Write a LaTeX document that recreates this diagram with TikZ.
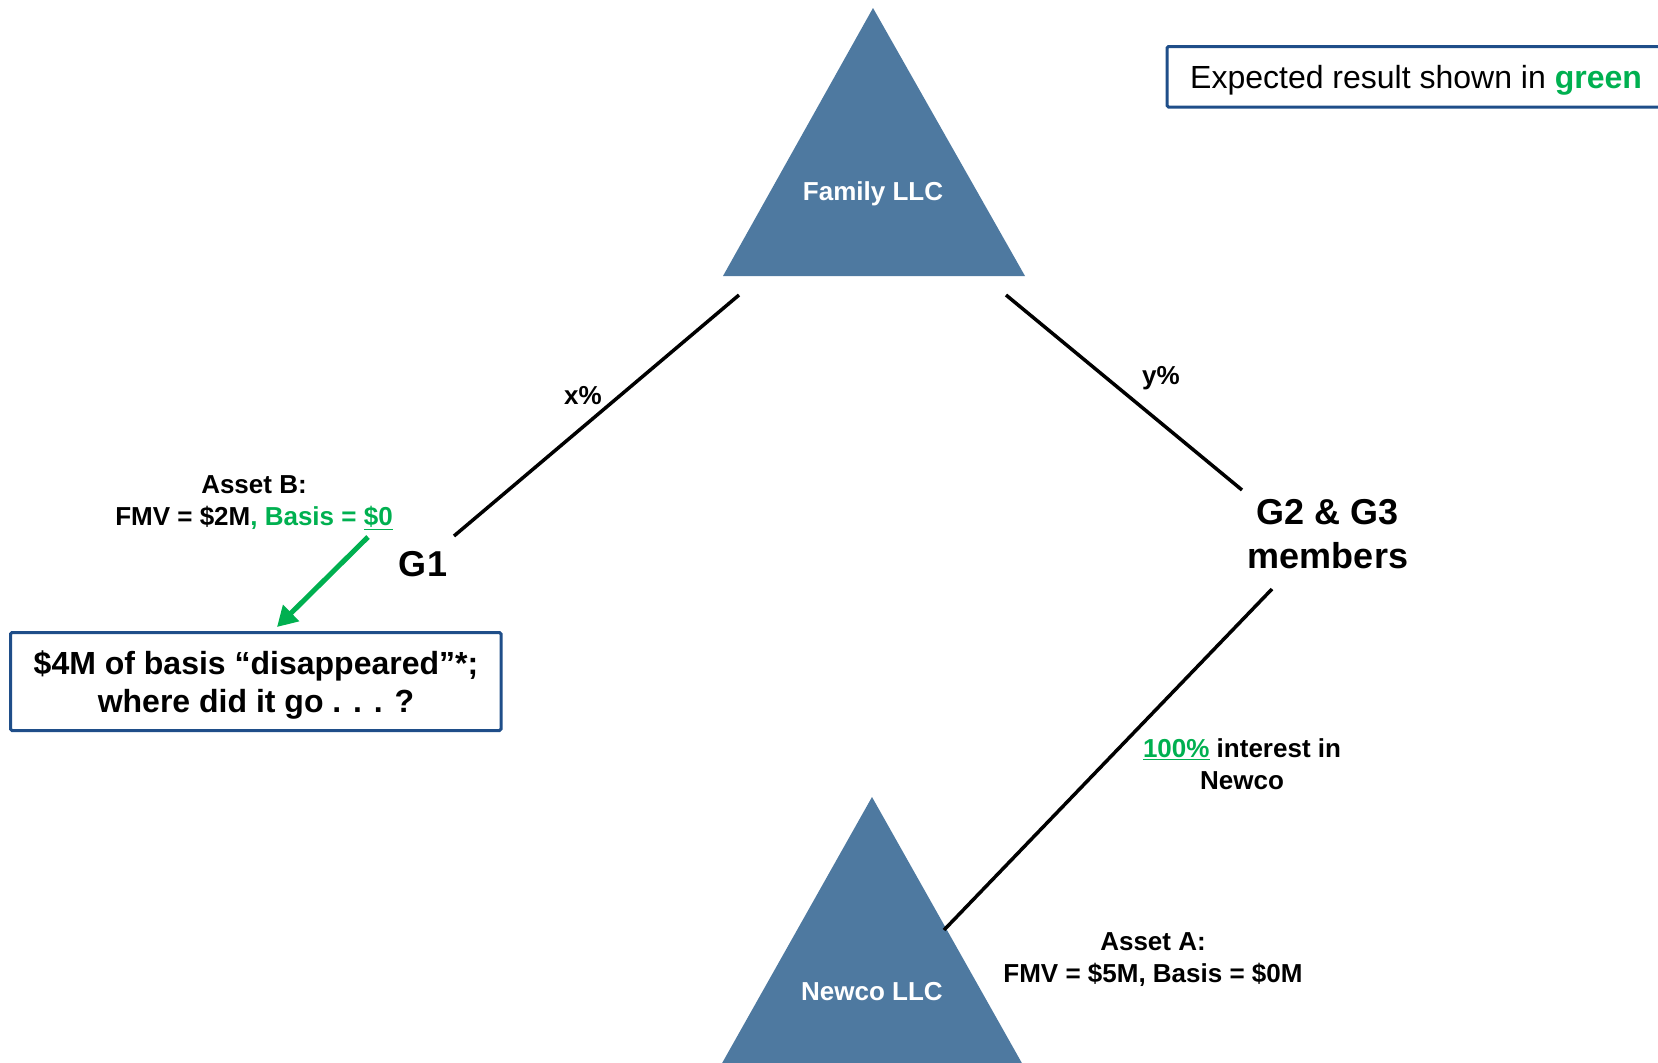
\documentclass[tikz,border=0pt]{standalone}
\usepackage{fontspec}
\setmainfont{Liberation Sans}
\usetikzlibrary{arrows.meta}
\definecolor{tri}{HTML}{4E79A0}
\definecolor{grn}{HTML}{00B050}
\definecolor{boxblue}{HTML}{1F4E89}
\begin{document}
\begin{tikzpicture}[x=1pt,y=-1pt,
  conn/.style={line width=3.5pt, black},
  lbl/.style={font=\bfseries\fontsize{26}{32}\selectfont, align=center, inner sep=0pt},
  big/.style={font=\bfseries\fontsize{36}{44}\selectfont, align=center, inner sep=0pt},
  tritext/.style={font=\bfseries\fontsize{26}{32}\selectfont, text=white, inner sep=0pt},
  bluebox/.style={draw=boxblue, line width=3pt, rounded corners=1.5pt},
  trishape/.style={fill=tri, draw=none}]
\useasboundingbox (0,0) rectangle (1658,1063);
\clip (0,0) rectangle (1658,1063);

% triangles
\coordinate (famTop) at (873,8);
\coordinate (famBL) at (723,276);
\coordinate (famBR) at (1025,276);
\fill[trishape] (famTop) -- (famBR) -- (famBL) -- cycle;
\node[tritext] (family) at (873,194) {Family LLC};

\coordinate (newTop) at (872,797);
\coordinate (newBL) at (712,1081);
\coordinate (newBR) at (1032,1081);
\fill[trishape] (newTop) -- (newBR) -- (newBL) -- cycle;
\node[tritext] (newco) at (872,992) {Newco LLC};

% legend box
\draw[bluebox] (1167,46.5) rectangle (1675,107);
\node[anchor=west, inner sep=0pt,
      font=\fontsize{32}{38}\selectfont] (legend) at (1190,80)
  {Expected result shown in \textcolor{grn}{\textbf{green}}};

% member labels
\node[big] (g1) at (423,564) {G1};
\node[big] (g23) at (1328,534) {G2 \& G3\\members};

% percentages
\node[lbl] (xp) at (583,396) {x\%};
\node[lbl] (yp) at (1161,378) {y\%};

% asset labels
\node[lbl] (assetB) at (254,503) {Asset B:\\FMV = \$2M\textcolor{grn}{, Basis = \underline{\$0}}};
\node[lbl] (assetA) at (1153,960) {Asset A:\\FMV = \$5M, Basis = \$0M};
\node[lbl] (interest) at (1242,764) {\textcolor{grn}{\underline{100\%}} interest in\\Newco};

% question box
\draw[bluebox] (10.5,632.5) rectangle (501,730.5);
\node[align=center, inner sep=0pt,
      font=\bfseries\fontsize{32}{38}\selectfont] (q) at (256,685)
  {\$4M of basis “disappeared”*;\\where did it go . . . ?};

% connector end points
\coordinate (famL) at (739,295);
\coordinate (g1e) at (454,536);
\coordinate (famR) at (1006,295);
\coordinate (g2e) at (1242,490);
\coordinate (g2b) at (1272,589);
\coordinate (newE) at (944,930);
\coordinate (arrS) at (368,537);
\coordinate (arrE) at (277,627);

\draw[conn] (famL) -- (g1e);
\draw[conn] (famR) -- (g2e);
\draw[conn] (g2b) -- (newE);
\draw[grn, line width=5pt, -{Triangle[length=20pt,width=22pt]}] (arrS) -- (arrE);
\end{tikzpicture}
\end{document}
